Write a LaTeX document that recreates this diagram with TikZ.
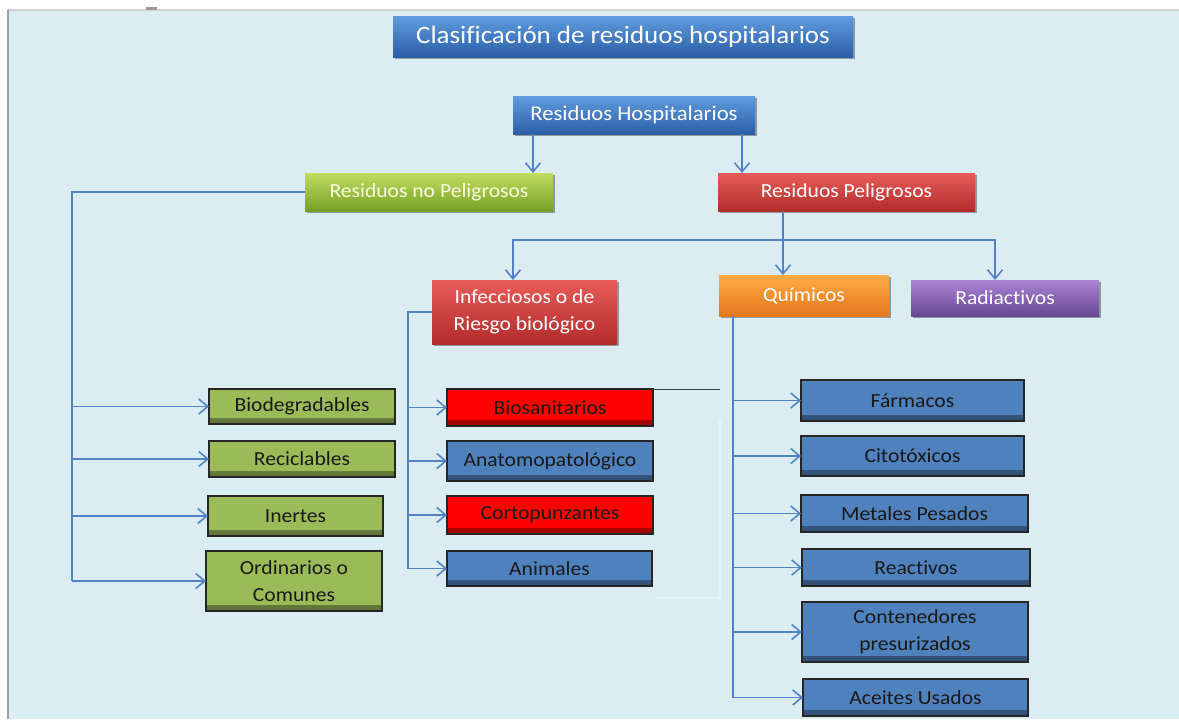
\documentclass[tikz,border=0pt]{standalone}
\usepackage{fontspec}
\setmainfont{Carlito}[FakeStretch=1.08, Ligatures={NoCommon,NoRare,NoContextual}]
\usetikzlibrary{arrows.meta,shadows}
\definecolor{bg}{RGB}{219,237,243}
\definecolor{conncol}{RGB}{84,130,200}
\definecolor{olive}{RGB}{155,187,89}
\definecolor{leafblue}{RGB}{79,129,189}
\definecolor{leafred}{RGB}{255,0,0}
\definecolor{bluetop}{RGB}{96,156,222}
\definecolor{bluebot}{RGB}{42,94,166}
\definecolor{greentop}{RGB}{192,222,96}
\definecolor{greenbot}{RGB}{120,160,38}
\definecolor{redtop}{RGB}{232,92,88}
\definecolor{redbot}{RGB}{178,44,44}
\definecolor{orangetop}{RGB}{255,172,72}
\definecolor{orangebot}{RGB}{228,118,28}
\definecolor{purpletop}{RGB}{172,132,212}
\definecolor{purplebot}{RGB}{104,70,150}
\definecolor{paletext}{RGB}{250,250,222}
\tikzset{
  gloss/.style={draw=none, text=white, font=\fontsize{10}{13.5}\selectfont,
    align=center, inner sep=2pt, outer sep=0pt,
    drop shadow={shadow xshift=1.2pt, shadow yshift=-1.2pt, opacity=0.35, fill=black}},
  gblue/.style={gloss, top color=bluetop, bottom color=bluebot},
  ggreen/.style={gloss, top color=greentop, bottom color=greenbot, text=paletext},
  gred/.style={gloss, top color=redtop, bottom color=redbot},
  gorange/.style={gloss, top color=orangetop, bottom color=orangebot},
  gpurple/.style={gloss, top color=purpletop, bottom color=purplebot},
  leaf/.style={draw=black!85, line width=0.7pt, text=black!90,
    font=\fontsize{10}{13.5}\selectfont, align=center, inner sep=2pt, outer sep=0pt,
    fill=#1,
    path picture={\shade[top color=#1, bottom color=#1!60!black]
      (path picture bounding box.south west) rectangle ([yshift=3pt]path picture bounding box.south east);}},
  conn/.style={draw=conncol, line width=0.8pt},
  arr/.style={conn, -{Straight Barb[length=4.5pt,width=7.5pt]}},
}
\begin{document}
\begin{tikzpicture}[x=0.5pt,y=-0.5pt]
\useasboundingbox (0,0) rectangle (1179,719);
\fill[white] (0,0) rectangle (1179,719);
\fill[bg] (8,10) rectangle (1179,719);
\draw[gray!35, line width=0.6pt] (8,10) -- (1179,10);
\draw[gray!75, line width=1pt] (8,10) -- (8,719);
\fill[gray!80] (146,7) rectangle (157,10);

% faint artifact near Biosanitarios
\draw[white!30!bg, line width=0.8pt] (720,420) -- (720,598) -- (655,598);

% upper nodes
\node[gblue, minimum width=230pt, minimum height=20.5pt, font=\fontsize{12.5}{15}\selectfont] (T) at (623,36.5) {Clasificación de residuos hospitalarios};
\node[gblue, minimum width=121pt, minimum height=19pt, font=\fontsize{10.5}{13}\selectfont] (RH) at (634,115) {Residuos Hospitalarios};
\node[ggreen, minimum width=124pt, minimum height=19pt] (NP) at (429,192) {Residuos no Peligrosos};
\node[gred, minimum width=128.5pt, minimum height=19pt] (P) at (846.5,192) {Residuos Peligrosos};
\node[gred, minimum width=92.5pt, minimum height=32pt] (Inf) at (524.5,312) {Infecciosos o de\\Riesgo biológico};
\node[gorange, minimum width=85pt, minimum height=20.5pt] (Q) at (804,295.5) {Químicos};
\node[gpurple, minimum width=94pt, minimum height=18pt] (Rad) at (1005,298) {Radiactivos};

% non-hazardous leaves
\node[leaf=olive, minimum width=93pt, minimum height=17.5pt] (Bio) at (302,406.5) {Biodegradables};
\node[leaf=olive, minimum width=93pt, minimum height=18pt] (Rec) at (302,459) {Reciclables};
\node[leaf=olive, minimum width=87.5pt, minimum height=20pt] (Ine) at (295.5,516) {Inertes};
\node[leaf=olive, minimum width=88pt, minimum height=30pt] (Ord) at (294,581) {Ordinarios o\\Comunes};

% infectious leaves
\node[leaf=leafred, minimum width=103pt, minimum height=18.5pt] (Bios) at (550,407.5) {Biosanitarios};
\node[leaf=leafblue, minimum width=103pt, minimum height=20pt] (Anat) at (550,461) {Anatomopatológico};
\node[leaf=leafred, minimum width=103pt, minimum height=19pt] (Cort) at (550,515) {Cortopunzantes};
\node[leaf=leafblue, minimum width=102.5pt, minimum height=17.5pt] (Anim) at (549.5,568.5) {Animales};

% chemical leaves
\node[leaf=leafblue, minimum width=111.5pt, minimum height=20.5pt] (Farm) at (912.5,400.5) {Fármacos};
\node[leaf=leafblue, minimum width=111.5pt, minimum height=20pt] (Cito) at (912.5,456) {Citotóxicos};
\node[leaf=leafblue, minimum width=113.5pt, minimum height=18.5pt] (Met) at (914.5,513.5) {Metales Pesados};
\node[leaf=leafblue, minimum width=114pt, minimum height=18.5pt] (Reac) at (916,567.5) {Reactivos};
\node[leaf=leafblue, minimum width=113pt, minimum height=30pt] (Cont) at (915,632) {Contenedores\\presurizados};
\node[leaf=leafblue, minimum width=112.5pt, minimum height=18.5pt] (Acei) at (915.5,697.5) {Aceites Usados};

\draw[black!75, line width=0.5pt] (Bios.north east) -- ++(67,0);

% connectors
\draw[arr] (RH.south -| 533,0) -- (NP.north -| 533,0);
\draw[arr] (RH.south -| 742,0) -- (P.north -| 742,0);
\coordinate (hb) at (783,240);
\draw[conn] (P.south -| 783,0) -- (hb);
\draw[arr] (hb) -- (Q.north -| 783,0);
\draw[arr] (hb) -| (Inf.north -| 513,0);
\draw[arr] (hb) -| (Rad.north -| 995,0);

\draw[conn] (NP.west) -| (Ord.west -| 72,0);
\foreach \n in {Bio,Rec,Ine,Ord} \draw[arr] (\n.west -| 72,0) -- (\n.west);

\draw[conn] (Inf.west) -| (Anim.west -| 408,0);
\foreach \n in {Bios,Anat,Cort,Anim} \draw[arr] (\n.west -| 408,0) -- (\n.west);

\draw[conn] (Q.south -| 733,0) -- (Acei.west -| 733,0);
\foreach \n in {Farm,Cito,Met,Reac,Cont,Acei} \draw[arr] (\n.west -| 733,0) -- (\n.west);
\end{tikzpicture}
\end{document}
